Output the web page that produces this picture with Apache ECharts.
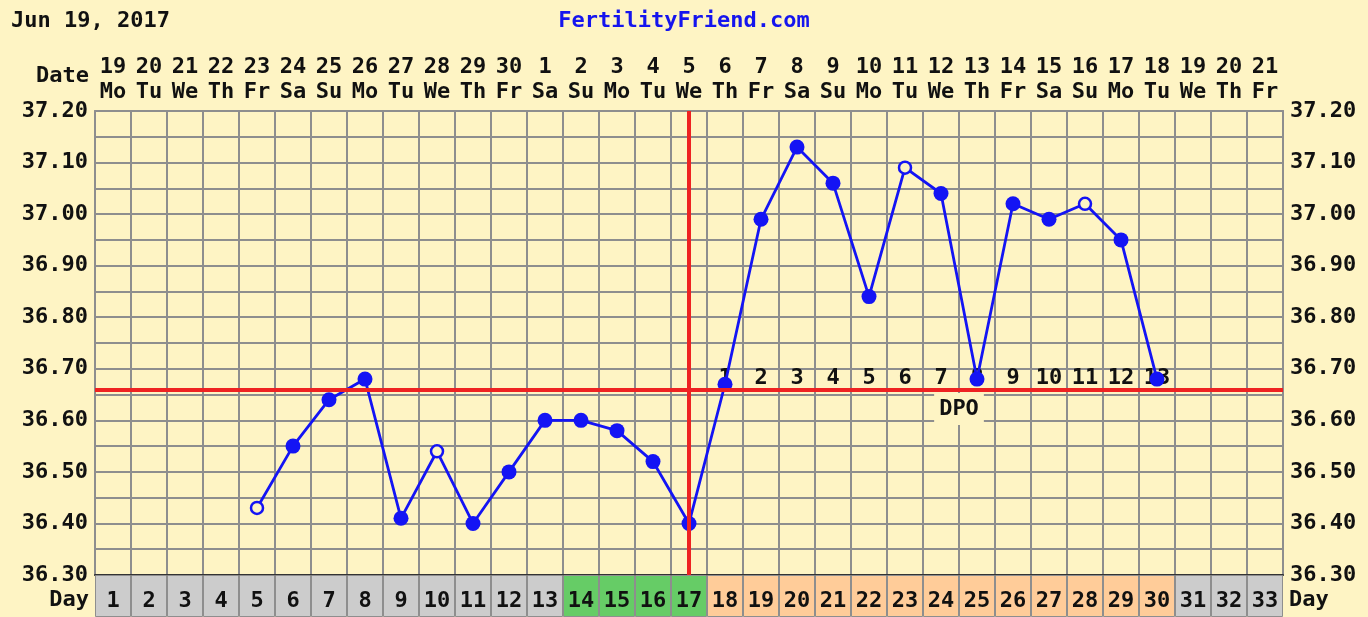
<!DOCTYPE html>
<html>
<head>
<meta charset="utf-8">
<script src="https://cdn.jsdelivr.net/npm/echarts@6/dist/echarts.min.js"></script>
<style>
html,body{margin:0;padding:0;background:#fef4c4;}
#c{width:1368px;height:617px;}
</style>
</head>
<body>
<div id="c"></div>
<script>
// ---- data ----
const cycleDays = ['1','2','3','4','5','6','7','8','9','10','11','12','13','14','15','16','17','18','19','20','21','22','23','24','25','26','27','28','29','30','31','32','33'];
const dateNums = ['19','20','21','22','23','24','25','26','27','28','29','30','1','2','3','4','5','6','7','8','9','10','11','12','13','14','15','16','17','18','19','20','21'];
const weekdays = ['Mo','Tu','We','Th','Fr','Sa','Su','Mo','Tu','We','Th','Fr','Sa','Su','Mo','Tu','We','Th','Fr','Sa','Su','Mo','Tu','We','Th','Fr','Sa','Su','Mo','Tu','We','Th','Fr'];
// temperatures (null = no reading)
const temps = [null,null,null,null,36.43,36.55,36.64,36.68,36.41,36.54,36.40,36.50,36.60,36.60,36.58,36.52,36.40,36.67,36.99,37.13,37.06,36.84,37.09,37.04,36.68,37.02,36.99,37.02,36.95,36.68,null,null,null];
const openDays = ['5','10','23','28'];        // discarded / open-circle temps
const fertileDays = ['14','15','16','17'];
const ovulationDay = '17';
const lastDpoDay = 30;
const coverline = 36.655;
const yTicks = ['36.30','36.40','36.50','36.60','36.70','36.80','36.90','37.00','37.10','37.20'];
const titleText = 'Jun 19, 2017';
const siteText = 'FertilityFriend.com';

// ---- styles ----
const BG = '#fef4c4';
const GRIDC = '#8e8e8e';
const BLUE = '#1414f4';
const RED = '#ee2222';
const FONT = '"DejaVu Sans Mono", monospace';
const FS = 22;
const txt = {fontFamily: FONT, fontWeight: 'bold', fontSize: FS, color: '#111'};

const ovIdx = cycleDays.indexOf(ovulationDay);
const tempData = temps.map((t, i) => {
  if (t === null) return null;
  const open = openDays.includes(cycleDays[i]);
  return open ? {value: t, symbol: 'circle', symbolSize: 12,
                 itemStyle: {color: BG, borderColor: BLUE, borderWidth: 2.5}}
              : {value: t};
});
const dpoData = [];
for (let i = ovIdx + 1; i < lastDpoDay; i++) {
  dpoData.push({value: [cycleDays[i], coverline], dpo: String(i - ovIdx)});
}
const cellData = cycleDays.map((d, i) => {
  let c = '#cccccc';
  if (fertileDays.includes(d)) c = '#66cc66';
  else if (i > ovIdx && i < lastDpoDay) c = '#ffcc99';
  return {value: 1, itemStyle: {color: c}};
});

const chart = echarts.init(document.getElementById('c'), null, {renderer: 'canvas'});
const yLab = v => {
  const k = Math.round(v * 100);
  return k % 10 === 0 ? (k / 100).toFixed(2) : '';
};
chart.setOption({
  backgroundColor: BG,
  animation: false,
  title: [
    {text: titleText, left: 6, top: 5, textStyle: Object.assign({}, txt)},
    {text: siteText, left: 'center', top: 5, textStyle: Object.assign({}, txt, {color: '#1515ee'})}
  ],
  graphic: [
    {type: 'text', right: 1368 - 89, top: 65, style: {text: 'Date', font: 'bold ' + FS + 'px ' + FONT, fill: '#111'}},
    {type: 'text', right: 1368 - 89, top: 589, style: {text: 'Day', font: 'bold ' + FS + 'px ' + FONT, fill: '#111'}},
    {type: 'text', left: 1289, top: 589, style: {text: 'Day', font: 'bold ' + FS + 'px ' + FONT, fill: '#111'}}
  ],
  grid: [
    {left: 95, right: 85, top: 111, height: 464, show: true, backgroundColor: BG, borderWidth: 0},
    {left: 95, right: 85, top: 575, height: 42}
  ],
  xAxis: [
    {type: 'category', gridIndex: 0, data: cycleDays, position: 'bottom', boundaryGap: true,
     axisLine: {lineStyle: {color: '#333', width: 2}}, axisTick: {show: false}, axisLabel: {show: false},
     splitLine: {show: true, lineStyle: {color: GRIDC, width: 2}}},
    {type: 'category', gridIndex: 0, data: dateNums.map((d, i) => d + '\n' + weekdays[i]), position: 'top',
     boundaryGap: true, axisLine: {lineStyle: {color: GRIDC, width: 2}}, axisTick: {show: false},
     axisLabel: Object.assign({}, txt, {interval: 0, lineHeight: 25, margin: 6})},
    {type: 'category', gridIndex: 1, data: cycleDays, boundaryGap: true,
     axisLine: {show: false}, axisTick: {show: false}, axisLabel: {show: false}, splitLine: {show: false}}
  ],
  yAxis: [
    {type: 'value', gridIndex: 0, min: 36.3, max: 37.2, interval: 0.05, position: 'left',
     axisLine: {show: true, lineStyle: {color: GRIDC, width: 2}}, axisTick: {show: false},
     axisLabel: Object.assign({}, txt, {formatter: yLab, margin: 7}),
     splitLine: {show: true, lineStyle: {color: GRIDC, width: 2}}},
    {type: 'value', gridIndex: 0, min: 36.3, max: 37.2, interval: 0.05, position: 'right',
     axisLine: {show: true, lineStyle: {color: GRIDC, width: 2}}, axisTick: {show: false},
     axisLabel: Object.assign({}, txt, {formatter: yLab, margin: 7}),
     splitLine: {show: false}},
    {type: 'value', gridIndex: 1, min: 0, max: 1, show: false}
  ],
  series: [
    {type: 'bar', xAxisIndex: 2, yAxisIndex: 2, data: cellData, barCategoryGap: '0%',
     itemStyle: {borderColor: GRIDC, borderWidth: 1},
     label: Object.assign({show: true, position: 'inside', offset: [0, 5], formatter: p => cycleDays[p.dataIndex]}, txt),
     silent: true},
    {type: 'line', xAxisIndex: 0, yAxisIndex: 0, data: tempData, connectNulls: false,
     symbol: 'circle', symbolSize: 15,
     lineStyle: {color: BLUE, width: 2.8}, itemStyle: {color: BLUE},
     markLine: {silent: true, symbol: 'none', label: {show: false},
       lineStyle: {color: RED, width: 4, type: 'solid'},
       data: [{yAxis: coverline}, {xAxis: ovulationDay}]},
     z: 3},
    {type: 'scatter', xAxisIndex: 0, yAxisIndex: 0, data: dpoData, symbolSize: 0, itemStyle: {opacity: 1},
     label: Object.assign({show: true, position: 'top', distance: 3, formatter: p => p.data.dpo}, txt), z: 2},
    {type: 'scatter', xAxisIndex: 0, yAxisIndex: 0, data: [[cycleDays[24], coverline]], symbolSize: 0, itemStyle: {opacity: 1},
     label: Object.assign({show: true, position: 'bottom', distance: 1, offset: [-18, 0], formatter: 'DPO',
       backgroundColor: BG, padding: [5, 5, 5, 5]}, txt), z: 4}
  ]
});
</script>
</body>
</html>
